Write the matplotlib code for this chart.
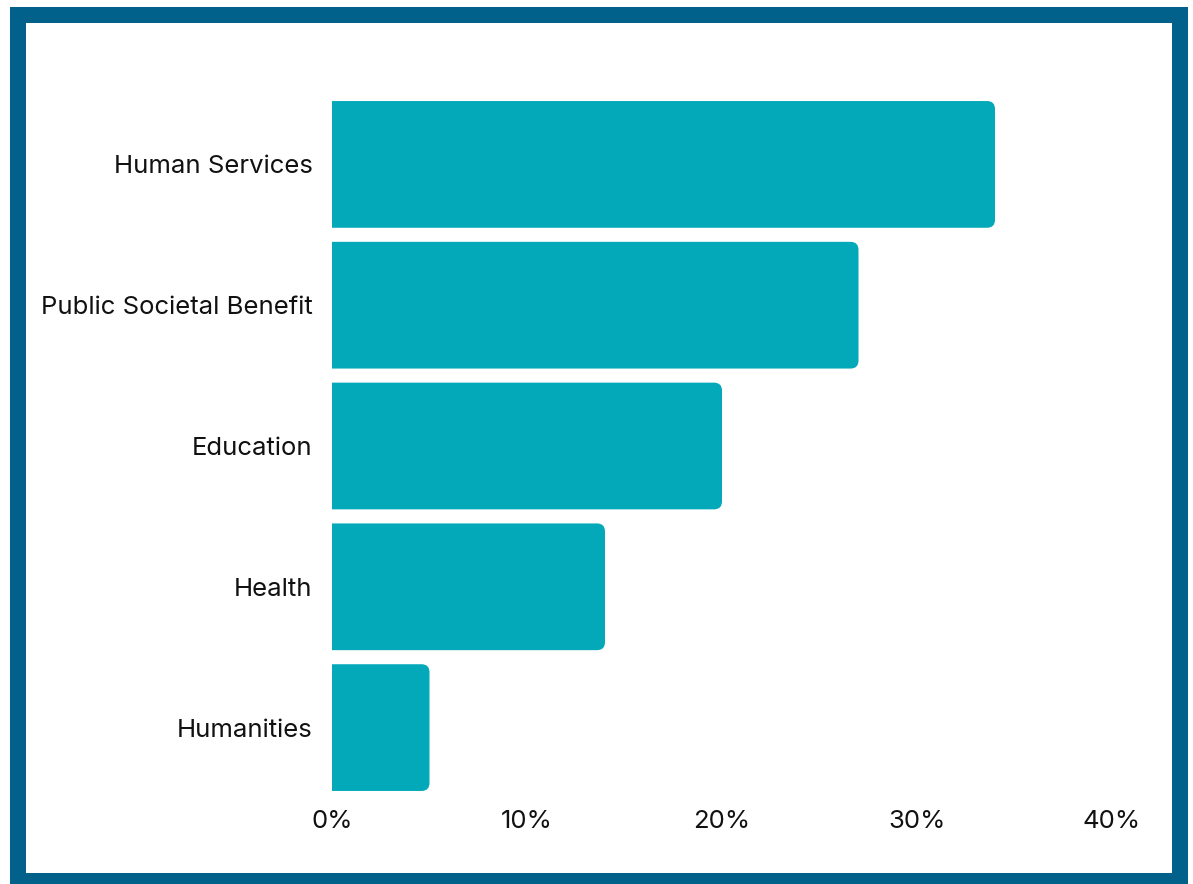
import matplotlib.pyplot as plt
from matplotlib.patches import PathPatch, Rectangle
from matplotlib.path import Path

categories = ["Human Services", "Public Societal Benefit", "Education", "Health", "Humanities"]
shares = [34, 27, 20, 14, 5]
tick_values = [0, 10, 20, 30, 40]
tick_labels = ["0%", "10%", "20%", "30%", "40%"]

bar_color = "#03A9B8"
frame_color = "#02618A"

plt.rcParams['font.family'] = ['Inter', 'DejaVu Sans']

W, H = 1193, 884
fig = plt.figure(figsize=(W / 100, H / 100), dpi=100)

# frame: blue band with white inside (kept behind the axes)
fig.patches.append(Rectangle((10 / W, 0), 1178 / W, 877 / H, transform=fig.transFigure,
                             facecolor=frame_color, edgecolor="none", zorder=-3))
fig.patches.append(Rectangle((26 / W, 11 / H), 1146 / W, 850 / H, transform=fig.transFigure,
                             facecolor="white", edgecolor="none", zorder=-2))

left, right = 332 / W, 1112 / W
top, bottom = 1 - 94 / H, 1 - 798 / H
ax = fig.add_axes([left, bottom, right - left, top - bottom])
ax.patch.set_alpha(0)

ax.set_xlim(0, 40)
ax.set_ylim(len(categories) - 0.5, -0.5)

bar_h = 0.9
# corner radius of 8 px, converted to data units on each axis
rx = 8 / ((right - left) * W / 40)
ry = 8 / ((top - bottom) * H / len(categories))


def bar_path(v, y0, y1):
    # square left end, rounded right end
    verts = [(0, y0), (v - rx, y0), (v, y0), (v, y0 + ry), (v, y1 - ry),
             (v, y1), (v - rx, y1), (0, y1), (0, y0)]
    codes = [Path.MOVETO, Path.LINETO, Path.CURVE3, Path.CURVE3, Path.LINETO,
             Path.CURVE3, Path.CURVE3, Path.LINETO, Path.CLOSEPOLY]
    return Path(verts, codes)


for i, v in enumerate(shares):
    ax.add_patch(PathPatch(bar_path(v, i - bar_h / 2, i + bar_h / 2),
                           facecolor=bar_color, edgecolor="none"))

ax.set_yticks(range(len(categories)))
ax.set_yticklabels(categories, fontsize=18.5, color="#111111")
ax.set_xticks(tick_values)
ax.set_xticklabels(tick_labels, fontsize=18.5, color="#111111")
ax.tick_params(axis="both", length=0)
ax.tick_params(axis="y", pad=14)
ax.tick_params(axis="x", pad=9)
for s in ax.spines.values():
    s.set_visible(False)

fig.savefig("out.png", dpi=100)
